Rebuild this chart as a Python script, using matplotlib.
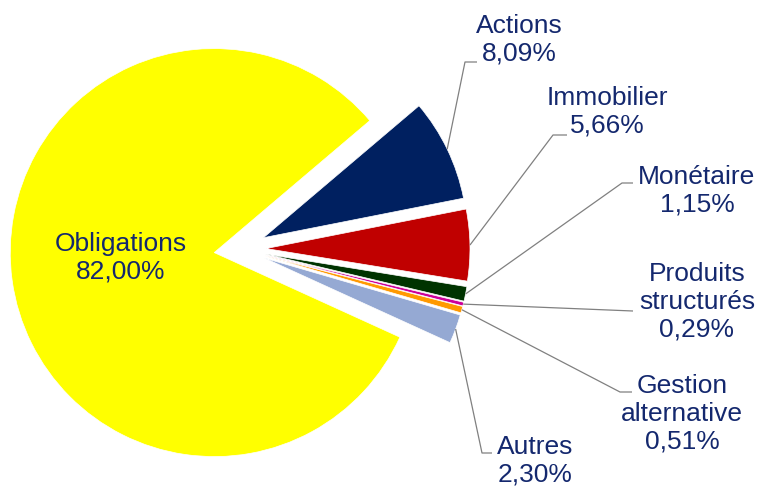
import math
import matplotlib as mpl; mpl.use("Agg")
import matplotlib.pyplot as plt

# Data
# ------------------------------------------------------------------------------
categories = ["Obligations", "Actions", "Immobilier", "Monétaire",
              "Produits\nstructurés", "Gestion\nalternative", "Autres"]
shares = [82.00, 8.09, 5.66, 1.15, 0.29, 0.51, 2.30]
colors = ["#FFFF00", "#002060", "#C00000", "#003300", "#CC0099", "#FF9900", "#95A9D3"]

W, H = 758, 486
TEXT = "#14286E"

def px(x, y):
    # pixel coords (y down) -> data coords (y up)
    return x, H - y

# label centres and leader elbows, in pixels
label_pos = [(121, 258), (519, 40), (607, 112), (697, 191), (697, 302), (682, 414), (535, 461)]
elbows = [None, (465, 62, 477), (553, 135, 567), (622, 183, 633),
          (633, 311, 633), (620, 392, 632), (482, 453, 492)]

fig = plt.figure(figsize=(W / 100, H / 100), dpi=100)
ax = fig.add_axes([0, 0, 1, 1])
ax.axis("off")

wedges, _ = ax.pie(shares, colors=colors, startangle=-24.5, counterclock=False,
                   center=px(240, 249), radius=204, explode=[26] * len(shares),
                   wedgeprops=dict(edgecolor="white", linewidth=0.5))
ax.set_xlim(0, W)
ax.set_ylim(0, H)
ax.set_aspect("equal")

for i, (name, v) in enumerate(zip(categories, shares)):
    txt = name + "\n" + f"{v:.2f}".replace(".", ",") + "%"
    lx, ly = px(*label_pos[i])
    ax.text(lx, ly, txt, ha="center", va="center", fontsize=19, color=TEXT,
            family="Liberation Sans", linespacing=1.2)
    if elbows[i] is None:
        continue
    w = wedges[i]
    mid = math.radians((w.theta1 + w.theta2) / 2)
    sx = w.center[0] + w.r * math.cos(mid)
    sy = w.center[1] + w.r * math.sin(mid)
    ex, ey, endx = elbows[i]
    ex, ey = px(ex, ey)
    ax.plot([sx, ex, endx], [sy, ey, ey], color="#808080", lw=0.9,
            solid_capstyle="butt")

fig.savefig("out.png", dpi=100)
